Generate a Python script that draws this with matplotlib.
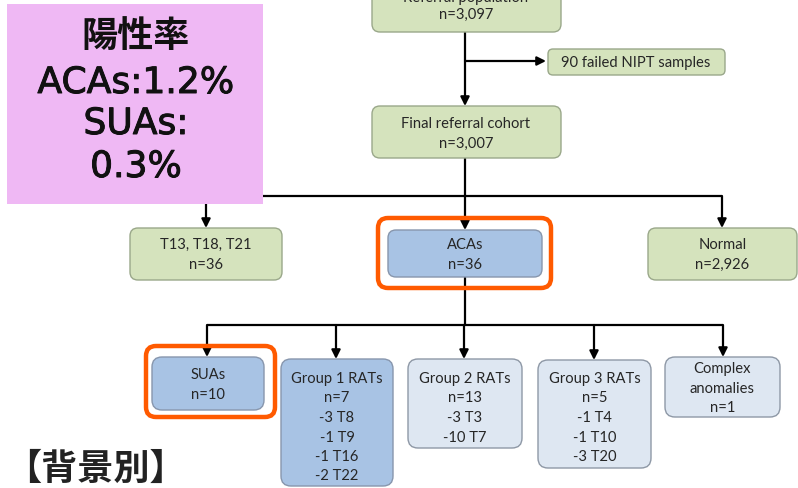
import matplotlib
matplotlib.use("Agg")
import matplotlib.pyplot as plt
import matplotlib.patheffects as pe
from matplotlib.patches import FancyBboxPatch

# ---------------- data ----------------
top_label = "Referral population"
top_n = "3,097"
failed_label = "90 failed NIPT samples"
final_label = "Final referral cohort"
final_n = "3,007"
level2_labels = ["T13, T18, T21", "ACAs", "Normal"]
level2_n = ["36", "36", "2,926"]
level3_labels = ["SUAs", "Group 1 RATs", "Group 2 RATs", "Group 3 RATs", "Complex\nanomalies"]
level3_n = ["10", "7", "13", "5", "1"]
level3_details = [[], ["-3 T8", "-1 T9", "-1 T16", "-2 T22"], ["-3 T3", "-10 T7"],
                  ["-1 T4", "-1 T10", "-3 T20"], []]
rate_title = "陽性率"
rate_lines = ["ACAs:1.2%", "SUAs:", "0.3%"]
footer = "【背景別】"

# ---------------- style ----------------
GREEN = "#d5e3bd"; GREEN_E = "#9aa88a"
BLUE = "#a8c3e4"; BLUE_E = "#8796ad"
LBLUE = "#dee7f2"; LBLUE_E = "#8e98a6"
PINK = "#efb8f4"; ORANGE = "#ff5a00"
FONT = ["Lato", "DejaVu Sans"]
JP = ["Noto Sans CJK JP", "DejaVu Sans"]
LAT = ["DejaVu Sans", "Noto Sans CJK JP"]
FS = 10.6

fig = plt.figure(figsize=(7.98, 4.89), dpi=100)
ax = fig.add_axes([0, 0, 1, 1])
ax.set_xlim(0, 798)
ax.set_ylim(489, 0)
ax.axis("off")


def box(x0, y0, x1, y1, fc, ec, r=8, lw=1.0, z=2):
    p = FancyBboxPatch((x0, y0), x1 - x0, y1 - y0,
                       boxstyle=f"round,pad=0,rounding_size={r}",
                       fc=fc, ec=ec, lw=lw, zorder=z)
    ax.add_patch(p)


def lines(xc, ys, texts, size=FS):
    for y, t in zip(ys, texts):
        ax.text(xc, y, t, ha="center", va="center", fontsize=size,
                family=FONT, color="#262626", zorder=5)


def seg(x0, y0, x1, y1):
    ax.plot([x0, x1], [y0, y1], color="black", lw=1.6, zorder=1,
            solid_capstyle="butt")


def arrow(x0, y0, x1, y1):
    ax.annotate("", xy=(x1, y1), xytext=(x0, y0),
                arrowprops=dict(arrowstyle="-|>", color="black", lw=1.6,
                                mutation_scale=13, shrinkA=0, shrinkB=0),
                zorder=1)


# top box (cut off at top of the picture, as in the reference)
box(372, -30, 561, 33, GREEN, GREEN_E)
lines(466, [-2, 15], [top_label, "n=" + top_n])

# main vertical to final cohort, with branch to failed
arrow(465, 33, 465, 107)
arrow(465, 62, 546, 62)
box(548, 50, 725, 76, GREEN, GREEN_E, r=5)
lines(636, [63], [failed_label])

box(372, 107, 561, 159, GREEN, GREEN_E)
lines(466, [124, 144], [final_label, "n=" + final_n])

# split into level 2
seg(465, 159, 465, 197)
seg(206, 197, 722, 197)
l2_x = [(130, 282), (388, 542), (648, 797)]
l2_arrow_x = [206, 465, 722]
l2_colors = [(GREEN, GREEN_E), (BLUE, BLUE_E), (GREEN, GREEN_E)]
l2_top = [229, 231, 229]
l2_bot = [281, 278, 281]
for (x0, x1), ax_x, (fc, ec), t, b, lab, n in zip(l2_x, l2_arrow_x, l2_colors,
                                                  l2_top, l2_bot, level2_labels, level2_n):
    arrow(ax_x, 197, ax_x, t)
    box(x0, t, x1, b, fc, ec)
    lines((x0 + x1) / 2, [245, 265], [lab, "n=" + n])

# ACAs highlight
box(378, 219, 551, 289, "none", ORANGE, r=10, lw=3.2, z=6)

# level 3
seg(465, 278, 465, 326)
seg(207, 326, 723, 326)
l3_x = [(152, 264), (281, 393), (408, 522), (538, 651), (665, 780)]
l3_arrow_x = [207, 336, 464, 594, 723]
l3_top = [358, 360, 360, 361, 358]
l3_bot = [411, 487, 449, 469, 418]
l3_colors = [(BLUE, BLUE_E), (BLUE, BLUE_E), (LBLUE, LBLUE_E), (LBLUE, LBLUE_E), (LBLUE, LBLUE_E)]
for i in range(5):
    x0, x1 = l3_x[i]
    fc, ec = l3_colors[i]
    arrow(l3_arrow_x[i], 326, l3_arrow_x[i], l3_top[i])
    box(x0, l3_top[i], x1, l3_bot[i], fc, ec, r=10)
    xc = (x0 + x1) / 2
    if i == 0:
        lines(xc, [375, 395], [level3_labels[i], "n=" + level3_n[i]])
    elif i == 4:
        t1, t2 = level3_labels[i].split("\n")
        lines(xc, [369, 389, 408], [t1, t2, "n=" + level3_n[i]])
    else:
        texts = [level3_labels[i], "n=" + level3_n[i]] + level3_details[i]
        ys = [379 + 19.5 * k for k in range(len(texts))]
        lines(xc, ys, texts)

# SUAs highlight
box(146, 347, 275, 418, "none", ORANGE, r=10, lw=3.2, z=6)

# pink rate panel
thick = [pe.withStroke(linewidth=0.7, foreground="#111111")]
ax.add_patch(plt.Rectangle((7, 5), 256, 200, fc=PINK, ec="none", zorder=7))
ax.text(136, 36, rate_title, ha="center", va="center", fontsize=26,
        family=JP, weight="bold", color="#111111", zorder=8)
for y, t in zip([84, 125, 168], rate_lines):
    ax.text(136, y, t, ha="center", va="center", fontsize=26,
            family=LAT, color="#111111", zorder=8, path_effects=thick)

# footer
ax.text(5, 469, footer, ha="left", va="center", fontsize=26,
        family=JP, weight="bold", color="#222222", zorder=8)

fig.savefig("out.png", dpi=100)
